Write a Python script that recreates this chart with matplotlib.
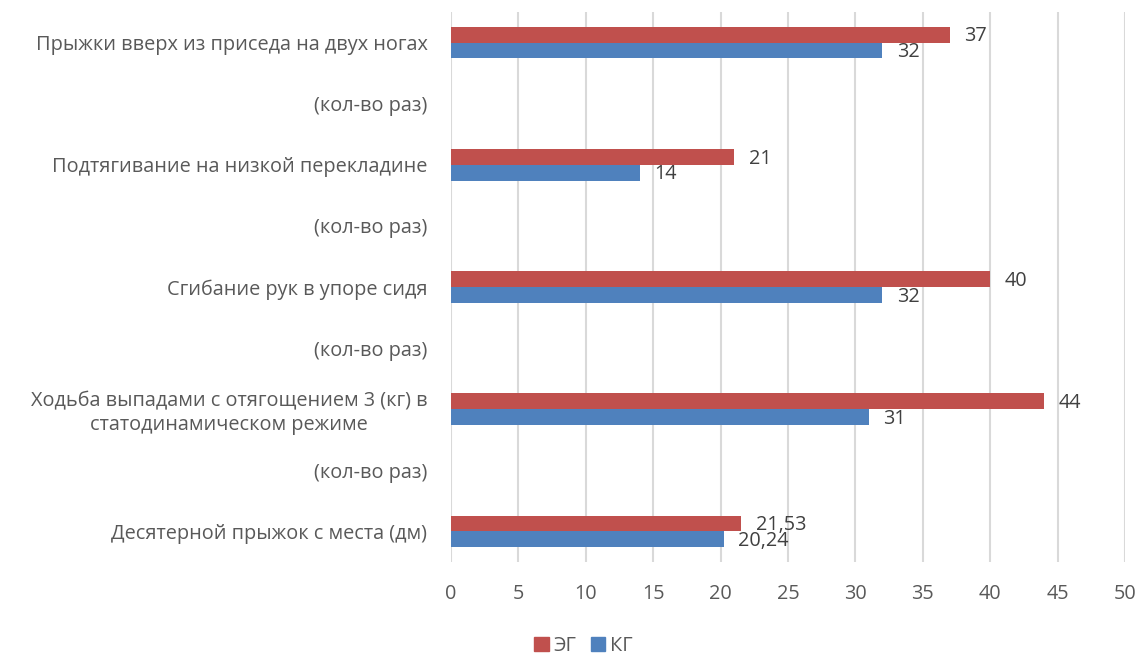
import matplotlib
matplotlib.use("Agg")
import matplotlib.pyplot as plt
import numpy as np
from matplotlib.patches import Patch

plt.rcParams['font.family'] = ['Open Sans', 'DejaVu Sans']

categories = [
    "Десятерной прыжок с места (дм)",
    "(кол-во раз)",
    "Ходьба выпадами с отягощением 3 (кг) в\nстатодинамическом режиме",
    "(кол-во раз)",
    "Сгибание рук в упоре сидя",
    "(кол-во раз)",
    "Подтягивание на низкой перекладине",
    "(кол-во раз)",
    "Прыжки вверх из приседа на двух ногах",
]
eg_values = [21.53, None, 44, None, 40, None, 21, None, 37]
kg_values = [20.24, None, 31, None, 32, None, 14, None, 32]
eg_labels = ["21,53", "", "44", "", "40", "", "21", "", "37"]
kg_labels = ["20,24", "", "31", "", "32", "", "14", "", "32"]
xticks = [0, 5, 10, 15, 20, 25, 30, 35, 40, 45, 50]

red = "#C0504D"
blue = "#4F81BD"
txt = "#595959"
fs = 14.3

fig = plt.figure(figsize=(11.4, 6.57), dpi=100)
ax = fig.add_axes([451/1140, 1-562/657, (1125-451)/1140, 550/657])

y = np.arange(len(categories))
h = 0.26
for i in range(len(categories)):
    if eg_values[i] is not None:
        ax.barh(y[i] + h/2, eg_values[i], height=h, color=red, zorder=3)
        ax.annotate(eg_labels[i], (eg_values[i], y[i] + h/2), xytext=(10.5, -1.2),
                    textcoords="offset points", va="center", ha="left",
                    fontsize=fs, color="#404040")
    if kg_values[i] is not None:
        ax.barh(y[i] - h/2, kg_values[i], height=h, color=blue, zorder=3)
        ax.annotate(kg_labels[i], (kg_values[i], y[i] - h/2), xytext=(10.5, -1.2),
                    textcoords="offset points", va="center", ha="left",
                    fontsize=fs, color="#404040")

ax.set_xlim(0, 50)
ax.set_ylim(-0.5, len(categories) - 0.5)
ax.set_xticks(xticks)
ax.set_xticklabels([str(t) for t in xticks], fontsize=fs, color=txt)
ax.set_yticks(y)
ax.set_yticklabels(categories, fontsize=fs, color=txt, multialignment="center")
ax.tick_params(axis="both", length=0)
ax.tick_params(axis="y", pad=17)
ax.tick_params(axis="x", pad=16)
for s in ax.spines.values():
    s.set_visible(False)
ax.grid(axis="x", color="#D9D9D9", linewidth=1.5, zorder=0)
ax.set_axisbelow(True)

handles = [Patch(color=red, label="ЭГ"), Patch(color=blue, label="КГ")]
fig.legend(handles=handles, loc="center", bbox_to_anchor=(583.5/1140, 1-646/657), ncol=2,
           frameon=False, fontsize=fs, handlelength=0.75, handleheight=0.7,
           handletextpad=0.25, columnspacing=0.7, labelcolor=txt)

fig.savefig("out.png", dpi=100)
